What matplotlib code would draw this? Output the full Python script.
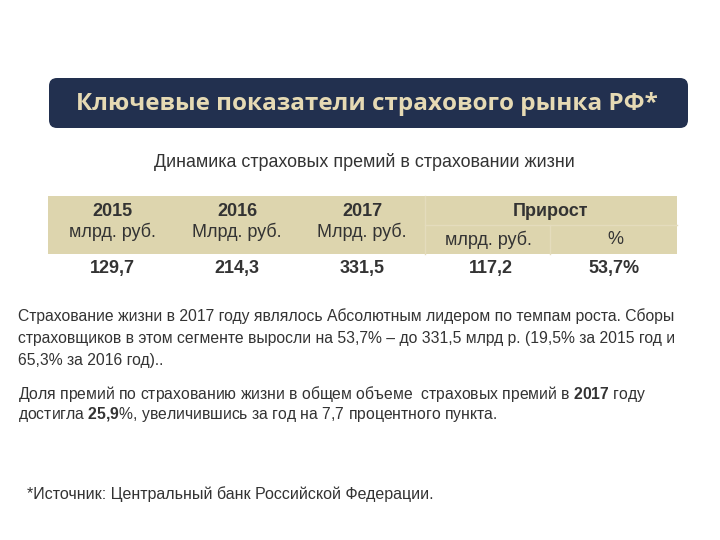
import matplotlib
matplotlib.use("Agg")
import matplotlib.pyplot as plt
from matplotlib.patches import FancyBboxPatch, Rectangle

plt.rcParams["mathtext.fontset"] = "custom"
plt.rcParams["mathtext.rm"] = "Liberation Sans"
plt.rcParams["mathtext.bf"] = "Liberation Sans:bold"

title = "Ключевые показатели страхового рынка РФ*"
subtitle = "Динамика страховых премий в страховании жизни"
years = ["2015", "2016", "2017"]
units = ["млрд. руб.", "Млрд. руб.", "Млрд. руб."]
values = [129.7, 214.3, 331.5]
growth_label = "Прирост"
growth_units = ["млрд. руб.", "%"]
growth_abs = 117.2
growth_pct = 53.7
para1 = ["Страхование жизни в 2017 году являлось Абсолютным лидером по темпам роста. Сборы",
         "страховщиков в этом сегменте выросли на 53,7% – до 331,5 млрд р. (19,5% за 2015 год и",
         "65,3% за 2016 год).."]
para2 = ["Доля премий по страхованию жизни в общем объеме  страховых премий в $\\bf{2017}$ году",
         "достигла $\\bf{25{,}9}$%, увеличившись за год на 7,7 процентного пункта."]
source = "*Источник: Центральный банк Российской Федерации."

def fmt(v, pct=False):
    s = f"{v:.1f}".replace(".", ",")
    return s + ("%" if pct else "")

W, H = 720, 540
fig = plt.figure(figsize=(7.2, 5.4), dpi=100)
ax = fig.add_axes([0, 0, 1, 1])
ax.set_xlim(0, W)
ax.set_ylim(H, 0)
ax.axis("off")

navy = "#22304f"
beige = "#e6dab4"
tan = "#ddd5ae"
txt = "#333333"
sans = ["Liberation Sans", "DejaVu Sans"]
fs_tab = 13

# title banner
ax.add_patch(FancyBboxPatch((49, 78), 639, 50, boxstyle="round,pad=0,rounding_size=8",
                            facecolor=navy, edgecolor="none"))
ax.text(367, 104, title, ha="center", va="center", color=beige, fontsize=17.5,
        fontweight="bold", family=["Open Sans", "DejaVu Sans"])

ax.text(364, 162, subtitle, ha="center", va="center", color=txt, fontsize=12.9, family=sans)

# table header
x0, x1 = 48, 677
ax.add_patch(Rectangle((x0, 196), x1 - x0, 58, facecolor=tan, edgecolor="none"))
light = "#e4dcbd"
ax.plot([425, 425], [196, 254], color=light, lw=1)
ax.plot([425, x1], [225, 225], color=light, lw=1)
ax.plot([550, 550], [225, 254], color=light, lw=1)

col_x = [112, 237, 362]
for cx, y, u, v in zip(col_x, years, units, values):
    ax.text(cx, 212, y, ha="center", va="center", color=txt, fontsize=fs_tab, fontweight="bold", family=sans)
    ax.text(cx, 232, u, ha="center", va="center", color=txt, fontsize=fs_tab, family=sans)
    ax.text(cx, 269, fmt(v), ha="center", va="center", color=txt, fontsize=fs_tab, fontweight="bold", family=sans)

ax.text(551, 211, growth_label, ha="center", va="center", color=txt, fontsize=fs_tab, fontweight="bold", family=sans)
ax.text(488, 240, growth_units[0], ha="center", va="center", color=txt, fontsize=fs_tab, family=sans)
ax.text(615, 240, growth_units[1], ha="center", va="center", color=txt, fontsize=fs_tab, family=sans)
ax.text(491, 269, fmt(growth_abs), ha="center", va="center", color=txt, fontsize=fs_tab, fontweight="bold", family=sans)
ax.text(614, 269, fmt(growth_pct, True), ha="center", va="center", color=txt, fontsize=fs_tab, fontweight="bold", family=sans)

# paragraphs
for i, line in enumerate(para1):
    ax.text(18, 316 + i * 22, line, ha="left", va="center", color=txt, fontsize=11.3, family=sans)
for i, line in enumerate(para2):
    ax.text(18, 394 + i * 20, line, ha="left", va="center", color=txt, fontsize=11.3, family=sans)

ax.text(27, 494, source, ha="left", va="center", color=txt, fontsize=11.5, family=sans)

fig.savefig("out.png", dpi=100, facecolor="white")
